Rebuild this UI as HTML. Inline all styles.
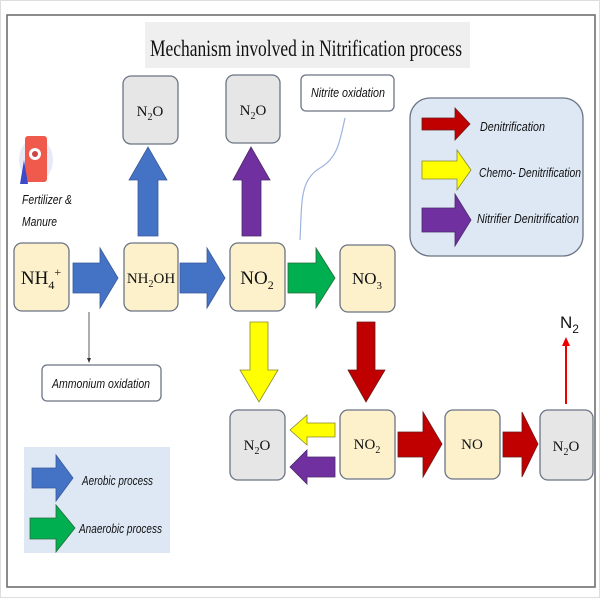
<!DOCTYPE html>
<html><head><meta charset="utf-8"><style>
body{margin:0;width:600px;height:600px;overflow:hidden;background:#fff}
svg{display:block}
.s{font-family:"Liberation Serif",serif;fill:#111}
.i{font-family:"Liberation Sans",sans-serif;font-style:italic;fill:#111}
</style></head><body>
<svg width="600" height="600" viewBox="0 0 600 600">
<rect x="0.5" y="0.5" width="599" height="597" fill="#fff" stroke="#ddd"/>
<rect x="7" y="15" width="588" height="572" fill="#fff" stroke="#666" stroke-width="1.5"/>
<rect x="145" y="22" width="325" height="46" fill="#efefef"/>
<text x="150" y="56" class="s" font-size="23" textLength="312" lengthAdjust="spacingAndGlyphs">Mechanism involved in Nitrification process</text>

<!-- boxes -->
<g stroke="#6b7585" stroke-width="1.3">
<rect x="14" y="243" width="55" height="68" rx="8" fill="#fdf1cc"/>
<rect x="124" y="243" width="54" height="68" rx="8" fill="#fdf1cc"/>
<rect x="230" y="243" width="55" height="68" rx="8" fill="#fdf1cc"/>
<rect x="340" y="245" width="55" height="67" rx="8" fill="#fdf1cc"/>
<rect x="123" y="76" width="55" height="68" rx="8" fill="#e6e6e6"/>
<rect x="226" y="75" width="54" height="68" rx="8" fill="#e6e6e6"/>
<rect x="230" y="410" width="55" height="70" rx="8" fill="#e6e6e6"/>
<rect x="340" y="410" width="55" height="69" rx="8" fill="#fdf1cc"/>
<rect x="445" y="410" width="55" height="69" rx="8" fill="#fdf1cc"/>
<rect x="540" y="410" width="53" height="70" rx="8" fill="#e6e6e6"/>
<rect x="301" y="75" width="93" height="36" rx="5" fill="#fff"/>
<rect x="42" y="365" width="119" height="36" rx="5" fill="#fff"/>
<rect x="410" y="98" width="173" height="158" rx="20" fill="#dde8f4"/>
</g>
<rect x="24" y="447" width="146" height="106" fill="#dde8f4"/>

<g class="s" font-size="17" text-anchor="middle">
<text x="41" y="284" font-size="19">NH<tspan font-size="12" dy="5">4</tspan><tspan font-size="12" dy="-13">+</tspan></text>
<text x="151" y="283" font-size="15">NH<tspan font-size="10" dy="4">2</tspan><tspan dy="-4">OH</tspan></text>
<text x="257" y="284" font-size="19">NO<tspan font-size="12" dy="5">2</tspan></text>
<text x="367" y="284">NO<tspan font-size="11" dy="5">3</tspan></text>
<text x="150" y="116" font-size="15">N<tspan font-size="10" dy="4">2</tspan><tspan dy="-4">O</tspan></text>
<text x="253" y="115" font-size="15">N<tspan font-size="10" dy="4">2</tspan><tspan dy="-4">O</tspan></text>
<text x="257" y="450" font-size="15">N<tspan font-size="10" dy="4">2</tspan><tspan dy="-4">O</tspan></text>
<text x="367" y="449" font-size="15">NO<tspan font-size="10" dy="4">2</tspan></text>
<text x="472" y="449" font-size="15">NO</text>
<text x="566" y="451" font-size="15">N<tspan font-size="10" dy="4">2</tspan><tspan dy="-4">O</tspan></text>
</g>
<text x="560" y="328" font-family="Liberation Sans,sans-serif" font-size="17" fill="#111">N<tspan font-size="12" dy="5">2</tspan></text>

<g class="i" font-size="12.5">
<text x="311" y="97" textLength="74" lengthAdjust="spacingAndGlyphs">Nitrite oxidation</text>
<text x="52" y="388" textLength="98" lengthAdjust="spacingAndGlyphs">Ammonium oxidation</text>
<text x="480" y="131" textLength="65" lengthAdjust="spacingAndGlyphs" font-size="13">Denitrification</text>
<text x="479" y="177" textLength="102" lengthAdjust="spacingAndGlyphs" font-size="13">Chemo- Denitrification</text>
<text x="477" y="223" textLength="102" lengthAdjust="spacingAndGlyphs" font-size="13">Nitrifier Denitrification</text>
<text x="82" y="485" textLength="71" lengthAdjust="spacingAndGlyphs">Aerobic process</text>
<text x="79" y="533" textLength="83" lengthAdjust="spacingAndGlyphs">Anaerobic process</text>
<text x="22" y="204" textLength="50" lengthAdjust="spacingAndGlyphs">Fertilizer &amp;</text>
<text x="22" y="226" textLength="35" lengthAdjust="spacingAndGlyphs">Manure</text>
</g>

<!-- fertilizer icon -->
<ellipse cx="36" cy="160" rx="17" ry="22" fill="#e8eaf6"/>
<rect x="25" y="136" width="22" height="46" rx="3" fill="#ef5a4c"/>
<circle cx="35" cy="154" r="6" fill="#fff"/>
<circle cx="35" cy="154" r="3" fill="#c44"/>
<path d="M20 184 L24 160 L28 184 Z" fill="#3d4bc8"/>

<!-- connectors -->
<line x1="89" y1="312" x2="89" y2="359" stroke="#333" stroke-width="0.8"/>
<path d="M87 358 L91 358 L89 363 Z" fill="#333"/>
<path d="M300 240 C302 200,300 180,320 168 C338 158,340 140,345 118" fill="none" stroke="#9db3e0" stroke-width="1.2"/>
<line x1="566" y1="404" x2="566" y2="344" stroke="#e00" stroke-width="2"/>
<path d="M562 346 L570 346 L566 337 Z" fill="#e00"/>

<!-- arrows -->
<g stroke="#3a5a9a" stroke-width="0.8">
<path d="M73 263 H100 V248 L118 278 L100 308 V293 H73 Z" fill="#4472c4"/>
<path d="M180 263 H207 V248 L225 278 L207 308 V293 H180 Z" fill="#4472c4"/>
<path d="M138 236 V180 H129 L148 147 L167 180 H158 V236 Z" fill="#4472c4"/>
<path d="M32 468 H56 V455 L73 478 L56 501 V488 H32 Z" fill="#4472c4"/>
</g>
<g stroke="#2a6a3a" stroke-width="0.8">
<path d="M288 263 H316 V248 L335 278 L316 308 V293 H288 Z" fill="#00b050"/>
<path d="M30 518 H56 V505 L75 528 L56 552 V539 H30 Z" fill="#00b050"/>
</g>
<g stroke="#4a2a6a" stroke-width="0.8">
<path d="M242 236 V180 H233 L251 147 L270 180 H261 V236 Z" fill="#7030a0"/>
<path d="M335 457 H307 V450 L290 467 L307 484 V477 H335 Z" fill="#7030a0"/>
<path d="M422 208 H455 V194 L471 220 L455 246 V232 H422 Z" fill="#7030a0"/>
</g>
<g stroke="#888833" stroke-width="0.8">
<path d="M250 322 V370 H240 L259 402 L278 370 H268 V322 Z" fill="#ffff00"/>
<path d="M335 423 H307 V415 L290 430 L307 445 V437 H335 Z" fill="#ffff00"/>
<path d="M422 161 H457 V150 L471 170 L457 190 V179 H422 Z" fill="#ffff00"/>
</g>
<g stroke="#6a1a1a" stroke-width="0.8">
<path d="M357 322 V370 H348 L366 402 L385 370 H375 V322 Z" fill="#c00000"/>
<path d="M398 432 H423 V412 L442 444 L423 477 V457 H398 Z" fill="#c00000"/>
<path d="M503 432 H522 V412 L538 444 L522 477 V457 H503 Z" fill="#c00000"/>
<path d="M422 118 H455 V108 L470 124 L455 140 V130 H422 Z" fill="#c00000"/>
</g>
</svg>
</body></html>
